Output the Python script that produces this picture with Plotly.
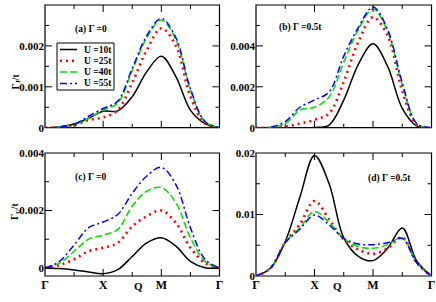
import plotly.graph_objects as go

# Path coordinate along Γ-X-M-Γ (Γ=0, X=1, M=2, Γ=3)
q = [0, 0.25, 0.5, 0.75, 1.0, 1.25, 1.5, 1.75, 2.0, 2.25, 2.5, 2.75, 3.0]

series_names = ["U =10t", "U =25t", "U =40t", "U =55t"]

# (a) Gamma_J, Gamma=0
a_u10 = [0, 0.00002, 0.00009, 0.00023, 0.00040, 0.00041, 0.00076, 0.00137, 0.00175, 0.00125, 0.00043, 0.00010, 0]
a_u25 = [0, 0.00001, 0.00005, 0.00019, 0.00025, 0.00043, 0.00110, 0.00190, 0.00243, 0.00200, 0.00076, 0.00010, 0]
a_u40 = [0, 0.00002, 0.00008, 0.00023, 0.00043, 0.00060, 0.00140, 0.00220, 0.00263, 0.00215, 0.00092, 0.00015, 0]
a_u55 = [0, 0.00002, 0.00008, 0.00028, 0.00047, 0.00065, 0.00145, 0.00225, 0.00267, 0.00220, 0.00095, 0.00015, 0]

# (b) Gamma_J, Gamma=0.5t
b_u10 = [0, 0, 0, 0, 0.00001, 0.00013, 0.00135, 0.00310, 0.00410, 0.00300, 0.00095, 0.00008, 0]
b_u25 = [0, 0, 0.00005, 0.00020, 0.00038, 0.00070, 0.00225, 0.00420, 0.00540, 0.00450, 0.00180, 0.00013, 0]
b_u40 = [0, 0.00002, 0.00020, 0.00086, 0.00100, 0.00150, 0.00320, 0.00480, 0.00580, 0.00470, 0.00210, 0.00020, 0]
b_u55 = [0, 0.00003, 0.00030, 0.00100, 0.00135, 0.00175, 0.00350, 0.00490, 0.00590, 0.00480, 0.00220, 0.00020, 0]

# (c) Gamma_U, Gamma=0
c_u10 = [0, -0.00002, -0.00007, -0.00014, -0.00020, -0.00006, 0.00040, 0.00087, 0.00105, 0.00076, 0.00023, 0.00001, 0]
c_u25 = [0, 0.00010, 0.00030, 0.00058, 0.00070, 0.00087, 0.00145, 0.00180, 0.00200, 0.00157, 0.00070, 0.00017, 0]
c_u40 = [0, 0.00017, 0.00058, 0.00100, 0.00114, 0.00134, 0.00215, 0.00267, 0.00280, 0.00227, 0.00105, 0.00023, 0]
c_u55 = [0, 0.00023, 0.00080, 0.00140, 0.00160, 0.00186, 0.00260, 0.00320, 0.00350, 0.00290, 0.00140, 0.00030, 0]

# (d) Gamma_U, Gamma=0.5t
d_u10 = [0, 0.0013, 0.0056, 0.0128, 0.0196, 0.0150, 0.0062, 0.0032, 0.0025, 0.0045, 0.0078, 0.0024, 0]
d_u25 = [0, 0.0013, 0.0055, 0.0084, 0.0122, 0.0092, 0.0059, 0.0043, 0.0036, 0.0045, 0.0063, 0.0021, 0]
d_u40 = [0, 0.0013, 0.0055, 0.0078, 0.0105, 0.0087, 0.0061, 0.0048, 0.0045, 0.0051, 0.0062, 0.0021, 0]
d_u55 = [0, 0.0013, 0.0054, 0.0076, 0.0099, 0.0083, 0.0061, 0.0052, 0.0051, 0.0054, 0.0061, 0.0021, 0]

# tick values
x_tickvals = [0, 1, 2, 3]
x_ticktext = ["Γ", "X", "M", "Γ"]
x_minor = [0.5, 1.5, 2.5]

a_ticks = [0, 0.001, 0.002, 0.003]
a_ticktext = ["0", "0.001", "0.002", "0.003"]
a_minor = [0.0005, 0.0015, 0.0025]
b_ticks = [0, 0.002, 0.004, 0.006]
b_ticktext = ["0", "0.002", "0.004", "0.006"]
b_minor = [0.001, 0.003, 0.005]
c_ticks = [0, 0.002, 0.004]
c_ticktext = ["0", "0.002", "0.004"]
c_minor = [0.001, 0.003]
d_ticks = [0, 0.01, 0.02]
d_ticktext = ["0", "0.01", "0.02"]
d_minor = [0.005, 0.015]

panel_labels = ["(a) Γ =0", "(b) Γ =0.5t", "(c) Γ =0", "(d) Γ =0.5t"]

FONT = "Liberation Serif, Times New Roman, serif"
colors = ["black", "red", "#00dd00", "blue"]
dashes = ["solid", "2px,4px", "7px,3px", "7px,3px,2px,3px"]
widths = [1.5, 2.6, 1.5, 1.5]

W, H = 436, 302
def px(x):
    return x / W
def py(y):
    return 1 - y / H

X_RANGE = [0, 3]

fig = go.Figure()

panels = [
    ("x", "y", [a_u10, a_u25, a_u40, a_u55], [0, 0.003], a_ticks, a_ticktext, a_minor),
    ("x2", "y2", [b_u10, b_u25, b_u40, b_u55], [0, 0.006], b_ticks, b_ticktext, b_minor),
    ("x3", "y3", [c_u10, c_u25, c_u40, c_u55], [-0.00028, 0.004], c_ticks, c_ticktext, c_minor),
    ("x4", "y4", [d_u10, d_u25, d_u40, d_u55], [0, 0.02], d_ticks, d_ticktext, d_minor),
]
for pi, (xa, ya, data, *_rest) in enumerate(panels):
    for si, vals in enumerate(data):
        fig.add_trace(go.Scatter(
            x=q, y=vals, mode="lines", xaxis=xa, yaxis=ya,
            name=series_names[si], showlegend=False,
            line=dict(color=colors[si], dash=dashes[si], width=widths[si],
                      shape="spline", smoothing=1.0),
        ))

xdom_l = [px(45), px(219.5)]
xdom_r = [px(256), px(431.5)]
ydom_t = [py(127.7), py(5)]
ydom_b = [py(276), py(153)]

def xaxis(dom, anchor, labels):
    return dict(domain=dom, anchor=anchor, range=X_RANGE,
                tickmode="array", tickvals=x_tickvals, ticktext=x_ticktext,
                showticklabels=labels, automargin=False,
                ticks="", showline=False, showgrid=False, zeroline=False,
                tickfont=dict(family=FONT, size=12, color="black", weight="bold"))

def yaxis(dom, anchor, rng, tv, tt):
    eps = (rng[1] - rng[0]) * 1e-4
    return dict(domain=dom, anchor=anchor, range=[rng[0] - eps, rng[1] + eps],
                tickmode="array", tickvals=tv, ticktext=tt, automargin=False,
                ticks="", showline=False, showgrid=False, zeroline=False,
                tickfont=dict(family=FONT, size=11, color="black", weight="bold"))

lay = dict(width=W, height=H, margin=dict(l=0, r=0, t=0, b=0, autoexpand=False),
           paper_bgcolor="white", plot_bgcolor="rgba(0,0,0,0)", showlegend=False)
doms = [(xdom_l, ydom_t, False), (xdom_r, ydom_t, False), (xdom_l, ydom_b, True), (xdom_r, ydom_b, True)]
for i, (xa, ya, data, rng, tv, tt, mn) in enumerate(panels):
    xd, yd, lbl = doms[i]
    xk = "xaxis" if xa == "x" else "xaxis" + xa[1:]
    yk = "yaxis" if ya == "y" else "yaxis" + ya[1:]
    lay[xk] = xaxis(xd, ya, lbl)
    lay[yk] = yaxis(yd, xa, rng, tv, tt)
fig.update_layout(**lay)

# Panel frames: white-filled boxes under the curves; ticks: thin filled bars on top
MAJ, MIN = 7.0, 4.0
TW = 1.0  # tick thickness in px
for i, (xa, ya, data, rng, tv, tt, mn) in enumerate(panels):
    xd, yd, _ = doms[i]
    fig.add_shape(type="rect", xref="paper", yref="paper", x0=xd[0], x1=xd[1], y0=yd[0], y1=yd[1],
                  line=dict(color="black", width=1.2), fillcolor="white", layer="below")
    lx = lambda v: xd[0] + (v - X_RANGE[0]) / (X_RANGE[1] - X_RANGE[0]) * (xd[1] - xd[0])
    ly = lambda v: yd[0] + (v - rng[0]) / (rng[1] - rng[0]) * (yd[1] - yd[0])
    for vals, L in ((x_tickvals[1:-1], MAJ), (x_minor, MIN)):
        for v in vals:
            xx = lx(v)
            for ya0, ya1 in ((yd[0], yd[0] + L / H), (yd[1] - L / H, yd[1])):
                fig.add_shape(type="rect", xref="paper", yref="paper",
                              x0=xx - TW / 2 / W, x1=xx + TW / 2 / W, y0=ya0, y1=ya1,
                              line=dict(width=0), fillcolor="black", layer="above")
    for vals, L in ((tv, MAJ), (mn, MIN)):
        for v in vals:
            if v <= rng[0] or v >= rng[1]:
                continue
            yy = ly(v)
            for xa0, xa1 in ((xd[0], xd[0] + L / W), (xd[1] - L / W, xd[1])):
                fig.add_shape(type="rect", xref="paper", yref="paper",
                              x0=xa0, x1=xa1, y0=yy - TW / 2 / H, y1=yy + TW / 2 / H,
                              line=dict(width=0), fillcolor="black", layer="above")

ann_font = dict(family=FONT, size=9.5, color="black", weight="bold")
annots = [
    (px(73), py(30), panel_labels[0]),
    (px(277), py(27), panel_labels[1]),
    (px(73), py(177), panel_labels[2]),
    (px(366), py(178), panel_labels[3]),
]
for x, y, t in annots:
    fig.add_annotation(x=x, y=y, xref="paper", yref="paper", text=t, showarrow=False,
                       xanchor="left", yanchor="middle", font=ann_font)

# Legend box drawn in panel (a)
fig.add_shape(type="rect", xref="paper", yref="paper", x0=px(57), x1=px(114), y0=py(90), y1=py(43),
              line=dict(color="black", width=1), fillcolor="white", layer="above")
leg_font = dict(family=FONT, size=9.5, color="black", weight="bold")
for si, name in enumerate(series_names):
    yy = 49.5 + si * 11.3
    fig.add_shape(type="line", xref="paper", yref="paper", x0=px(60), x1=px(77), y0=py(yy), y1=py(yy),
                  line=dict(color=colors[si], dash=dashes[si], width=widths[si]), layer="above")
    fig.add_annotation(x=px(82), y=py(yy), xref="paper", yref="paper", text=name, showarrow=False,
                       xanchor="left", yanchor="middle", font=leg_font)

fig.add_annotation(x=px(8), y=py(72), xref="paper", yref="paper", text="Γ<sub>J</sub>/t",
                   showarrow=False, textangle=-90, font=ann_font)
fig.add_annotation(x=px(8), y=py(222), xref="paper", yref="paper", text="Γ<sub>U</sub>/t",
                   showarrow=False, textangle=-90, font=ann_font)
fig.add_annotation(x=px(132), y=py(294), xref="paper", yref="paper", text="Q",
                   showarrow=False, font=dict(family=FONT, size=11, color="black", weight="bold"))
fig.add_annotation(x=px(344), y=py(294), xref="paper", yref="paper", text="Q",
                   showarrow=False, font=dict(family=FONT, size=11, color="black", weight="bold"))

fig.write_html("out.html", config={"displayModeBar": False},
               post_script="document.body.style.margin='0';document.body.style.overflow='hidden';")
